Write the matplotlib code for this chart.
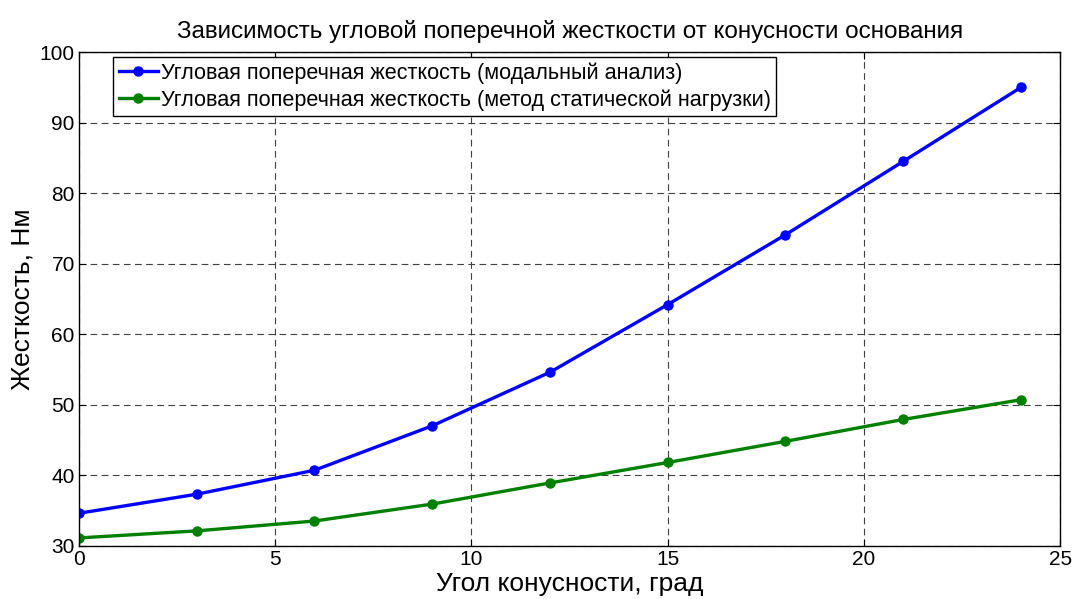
import numpy as np
import matplotlib.pyplot as plt

plt.rcParams['font.family'] = ['Liberation Sans', 'DejaVu Sans']

angle = [0, 3, 6, 9, 12, 15, 18, 21, 24]
modal = [34.6, 37.3, 40.7, 47.0, 54.6, 64.2, 74.1, 84.5, 95.0]
static = [31.1, 32.1, 33.5, 35.9, 38.9, 41.8, 44.8, 47.9, 50.7]

labels = [
    "Угловая поперечная жесткость (модальный анализ)",
    "Угловая поперечная жесткость (метод статической нагрузки)",
]

fig = plt.figure(figsize=(10.72, 5.99), dpi=100)
ax = fig.add_axes([0.0737, 0.089, 0.9153, 0.824])

ax.plot(angle, modal, color="#0000ff", lw=2.4, marker="o", ms=6.5, label=labels[0])
ax.plot(angle, static, color="#008000", lw=2.4, marker="o", ms=6.5, label=labels[1])

ax.set_xlim(0, 25)
ax.set_ylim(30, 100)
ax.set_xticks(np.arange(0, 26, 5))
ax.set_yticks(np.arange(30, 101, 10))
ax.grid(True, color="0.25", linestyle=(0, (6, 4)), linewidth=0.8)
ax.tick_params(direction="in", top=True, right=True, labelsize=15, length=5, pad=3)
for s in ax.spines.values():
    s.set_linewidth(1.0)

ax.set_title("Зависимость угловой поперечной жесткости от конусности основания",
             fontsize=17.5, pad=10)
ax.set_xlabel("Угол конусности, град", fontsize=19, labelpad=2)
ax.set_ylabel("Жесткость, Нм", fontsize=19, labelpad=4)

leg = ax.legend(loc="upper left", bbox_to_anchor=(0.035, 0.99), fontsize=15.6,
                fancybox=False, edgecolor="black", framealpha=1,
                handlelength=1.8, handletextpad=0.15, borderpad=0.25,
                labelspacing=0.25, borderaxespad=0)
leg.get_frame().set_linewidth(1.0)

fig.savefig("out.png", dpi=100)
